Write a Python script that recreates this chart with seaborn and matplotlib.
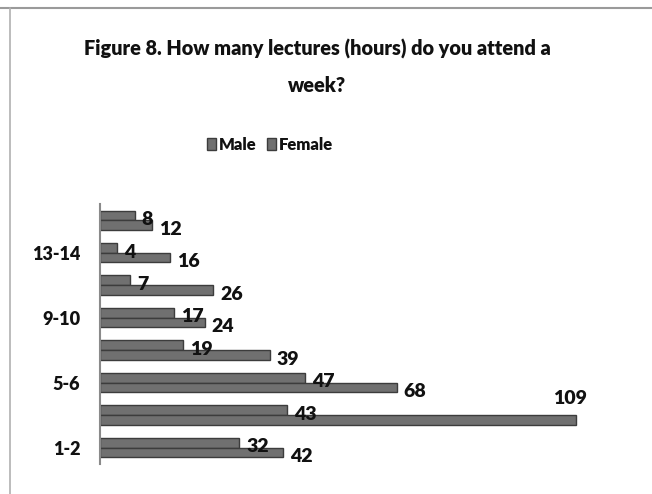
import matplotlib
matplotlib.use("Agg")
import matplotlib.pyplot as plt
import seaborn as sns
import pandas as pd
from matplotlib.lines import Line2D

categories = ["1-2", "3-4", "5-6", "7-8", "9-10", "11-12", "13-14", "15-16"]
male = [32, 43, 47, 19, 17, 7, 4, 8]
female = [42, 109, 68, 39, 24, 26, 16, 12]
shown_ticks = ["1-2", "5-6", "9-10", "13-14"]
title = "Figure 8. How many lectures (hours) do you attend a\nweek?"

sns.set_style("white")
plt.rcParams["font.family"] = ["Lato", "DejaVu Sans"]
plt.rcParams["font.weight"] = "heavy"
plt.rcParams["text.color"] = "#111111"
plt.rcParams["ytick.color"] = "#111111"

df = pd.DataFrame({
    "cat": categories * 2,
    "val": male + female,
    "sex": ["Male"] * len(categories) + ["Female"] * len(categories),
})
order = categories[::-1]

fig = plt.figure(figsize=(6.52, 4.94), dpi=100)
ax = fig.add_axes([0.153, 0.061, 0.77, 0.526])
sns.barplot(data=df, y="cat", x="val", hue="sex", order=order,
            hue_order=["Male", "Female"], orient="h", width=0.6,
            palette=["#707070", "#707070"], edgecolor="#3c3c3c", linewidth=1.0,
            ax=ax, legend=True)
ax.set_xlim(0, 115)
ax.set_ylim(7.5, -0.5)
ax.set_xlabel("")
ax.set_ylabel("")
ax.set_xticks([])
ax.set_yticks([order.index(c) for c in shown_ticks])
ax.set_yticklabels(shown_ticks, fontsize=13, fontweight="heavy", color="#111111")
ax.tick_params(axis="y", length=0, pad=14)
for s in ["top", "right", "bottom"]:
    ax.spines[s].set_visible(False)
ax.spines["left"].set_color("#8a8a8a")
ax.spines["left"].set_linewidth(1.5)

xmax = ax.get_xlim()[1]
for cont, vals in zip(ax.containers, [male, female]):
    for bar in cont:
        w = bar.get_width()
        yc = bar.get_y() + bar.get_height() / 2
        lbl = f"{int(round(w))}"
        if w > 0.9 * xmax:
            ax.annotate(lbl, (w, bar.get_y()), xytext=(-4, 6), textcoords="offset points",
                        ha="center", va="bottom", fontsize=14, fontweight="heavy")
        else:
            ax.annotate(lbl, (w, yc), xytext=(5, -3), textcoords="offset points",
                        ha="left", va="center", fontsize=14, fontweight="heavy")

leg = ax.legend(loc="center", bbox_to_anchor=(270 / 652, 1 - 145 / 494),
                bbox_transform=fig.transFigure, ncol=2, frameon=False,
                fontsize=12, handlelength=0.55, handleheight=0.75,
                handletextpad=0.2, columnspacing=0.6)
for t in leg.get_texts():
    t.set_fontweight("heavy")

fig.text(317 / 652, 1 - 67 / 494, title, ha="center", va="center", fontsize=14.3,
         fontweight="heavy", linespacing=2.1)

fig.add_artist(Line2D([0, 1], [1 - 8 / 494, 1 - 8 / 494], transform=fig.transFigure,
                      color="#9a9a9a", lw=1.5))
fig.add_artist(Line2D([10 / 652, 10 / 652], [0, 1 - 8 / 494], transform=fig.transFigure,
                      color="#b0b0b0", lw=1.2))

fig.savefig("out.png", dpi=100)
